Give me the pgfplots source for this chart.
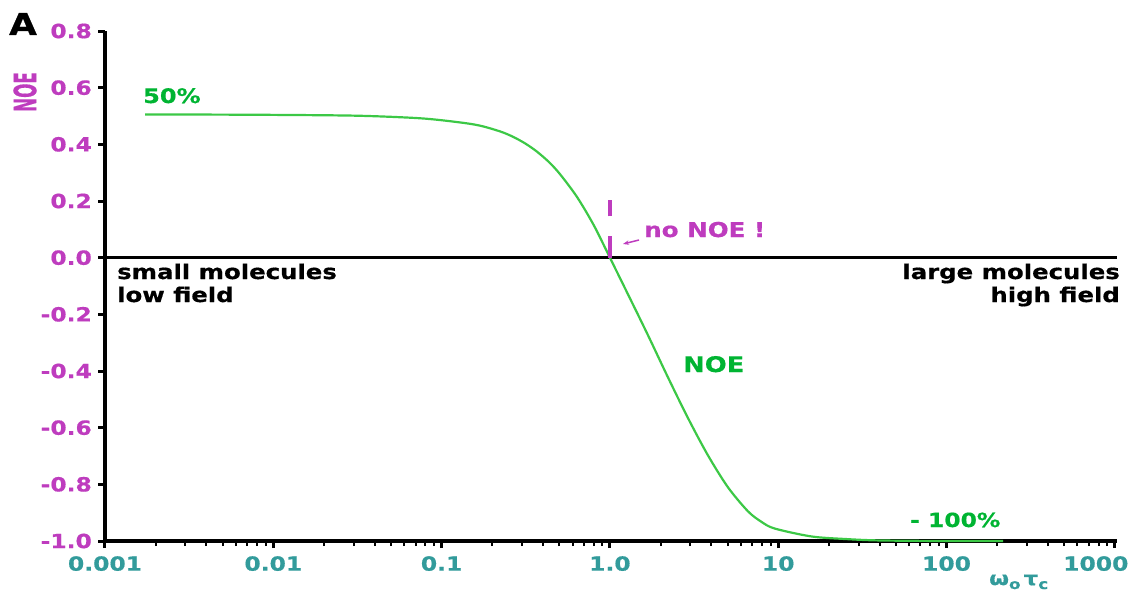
\documentclass[border=0pt]{standalone}
\usepackage{pgfplots}
\pgfplotsset{compat=1.18}
\usetikzlibrary{arrows.meta}
\usepackage{fontspec}
\setmainfont[FakeStretch=1.2, BoldFeatures={FakeBold=0.6}]{DejaVu Sans}

\definecolor{curvegreen}{RGB}{60,200,70}
\definecolor{labgreen}{RGB}{0,180,50}
\definecolor{labmag}{RGB}{190,60,190}
\definecolor{labteal}{RGB}{50,155,155}
\newcommand{\fs}[1]{\fontsize{#1}{#1}\selectfont\bfseries}

% NOE enhancement versus omega_0 * tau_c
\pgfplotstableread{
x       y
0.00173 0.505
0.004   0.505
0.01    0.504
0.0316  0.501
0.0745  0.492
0.126   0.478
0.169   0.466
0.224   0.445
0.267   0.426
0.316   0.402
0.369   0.374
0.437   0.336
0.508   0.293
0.638   0.214
0.803   0.114
1.0     0.0
1.27   -0.125
1.672  -0.270
2.203  -0.420
2.904  -0.565
3.819  -0.697
5.023  -0.810
6.607  -0.895
7.94   -0.932
9.528  -0.956
15.78  -0.984
25.1   -0.993
39.8   -0.998
100    -1.0
217    -1.0
}\noedata

\begin{document}
\begin{tikzpicture}
\useasboundingbox (0pt,0pt) rectangle (1133pt,-592pt);
\begin{axis}[
  at={(105pt,-541pt)}, anchor=south west,
  scale only axis, width=1012pt, height=510pt,
  xmode=log, xmin=0.001, xmax=1030, ymin=-1, ymax=0.8,
  axis x line*=bottom, axis y line*=left,
  axis line style={line width=3.5pt, black},
  clip=false,
  tick align=outside,
  major tick length=7pt, minor tick length=5pt,
  every major tick/.append style={line width=3pt, black},
  every minor tick/.append style={line width=2pt, black},
  xtick={0.001,0.01,0.1,1,10,100,1000},
  xticklabels={0.001,0.01,0.1,1.0,10,100,{1000\hspace*{38pt}}},
  minor xtick={0.002,0.003,0.004,0.005,0.006,0.007,0.008,0.009,
    0.02,0.03,0.04,0.05,0.06,0.07,0.08,0.09,
    0.2,0.3,0.4,0.5,0.6,0.7,0.8,0.9,
    2,3,4,5,6,7,8,9,
    20,30,40,50,60,70,80,90,
    200,300,400,500,600,700,800,900},
  ytick={-1,-0.8,-0.6,-0.4,-0.2,0,0.2,0.4,0.6,0.8},
  yticklabels={-1.0,-0.8,-0.6,-0.4,-0.2,0.0,0.2,0.4,0.6,0.8},
  xticklabel style={font=\fs{19.5}, text=labteal, inner sep=0pt, anchor=north, yshift=-8pt},
  yticklabel style={font=\fs{19.5}, text=labmag, inner sep=0pt, anchor=east, xshift=-6pt},
]
% zero line
\draw[line width=3pt, black] (axis cs:0.001,0) -- (axis cs:1030,0);
% NOE curve
\addplot[curvegreen, line width=2.2pt, smooth, no marks] table[x=x, y=y] {\noedata};
% null point marker at omega tau = 1
\draw[labmag, line width=4.5pt] (axis cs:1,0) -- (axis cs:1,0.075);
\draw[labmag, line width=4.5pt] (axis cs:1,0.146) -- (axis cs:1,0.205);
\end{axis}

\node[anchor=center] at (23pt,-24pt) {\fs{30}A};
\node[rotate=90, text=labmag, inner sep=0pt] at (25pt,-92pt) {\fs{14}\scalebox{1}[2.2]{NOE}};

\node[anchor=base west, inner sep=0pt, text=labgreen] at (143pt,-103pt) {\fs{20}50\%};
\node[anchor=base west, inner sep=0pt, text=labmag] at (644pt,-237pt) {\fs{20.5}no NOE !};
\draw[labmag, line width=1.5pt, -{Stealth[length=6pt]}] (639pt,-240pt) -- (623pt,-244pt);

\node[anchor=base west, inner sep=0pt] at (117pt,-279pt) {\fs{20.3}small molecules};
\node[anchor=base west, inner sep=0pt] at (117pt,-302pt) {\fs{20.3}low field};
\node[anchor=base east, inner sep=0pt] at (1120pt,-279pt) {\fs{20.3}large molecules};
\node[anchor=base east, inner sep=0pt] at (1120pt,-302pt) {\fs{20.3}high field};

\node[anchor=base west, inner sep=0pt, text=labgreen] at (683pt,-372pt) {\fs{21.5}NOE};
\node[anchor=base west, inner sep=0pt, text=labgreen] at (910pt,-527pt) {\fs{19.5}- 100\%};

\node[anchor=base west, inner sep=0pt, text=labteal] at (989pt,-585pt)
  {\fs{19}ω\raisebox{-4pt}{\fs{14}o}\,τ\raisebox{-4pt}{\fs{14}c}};
\end{tikzpicture}
\end{document}
